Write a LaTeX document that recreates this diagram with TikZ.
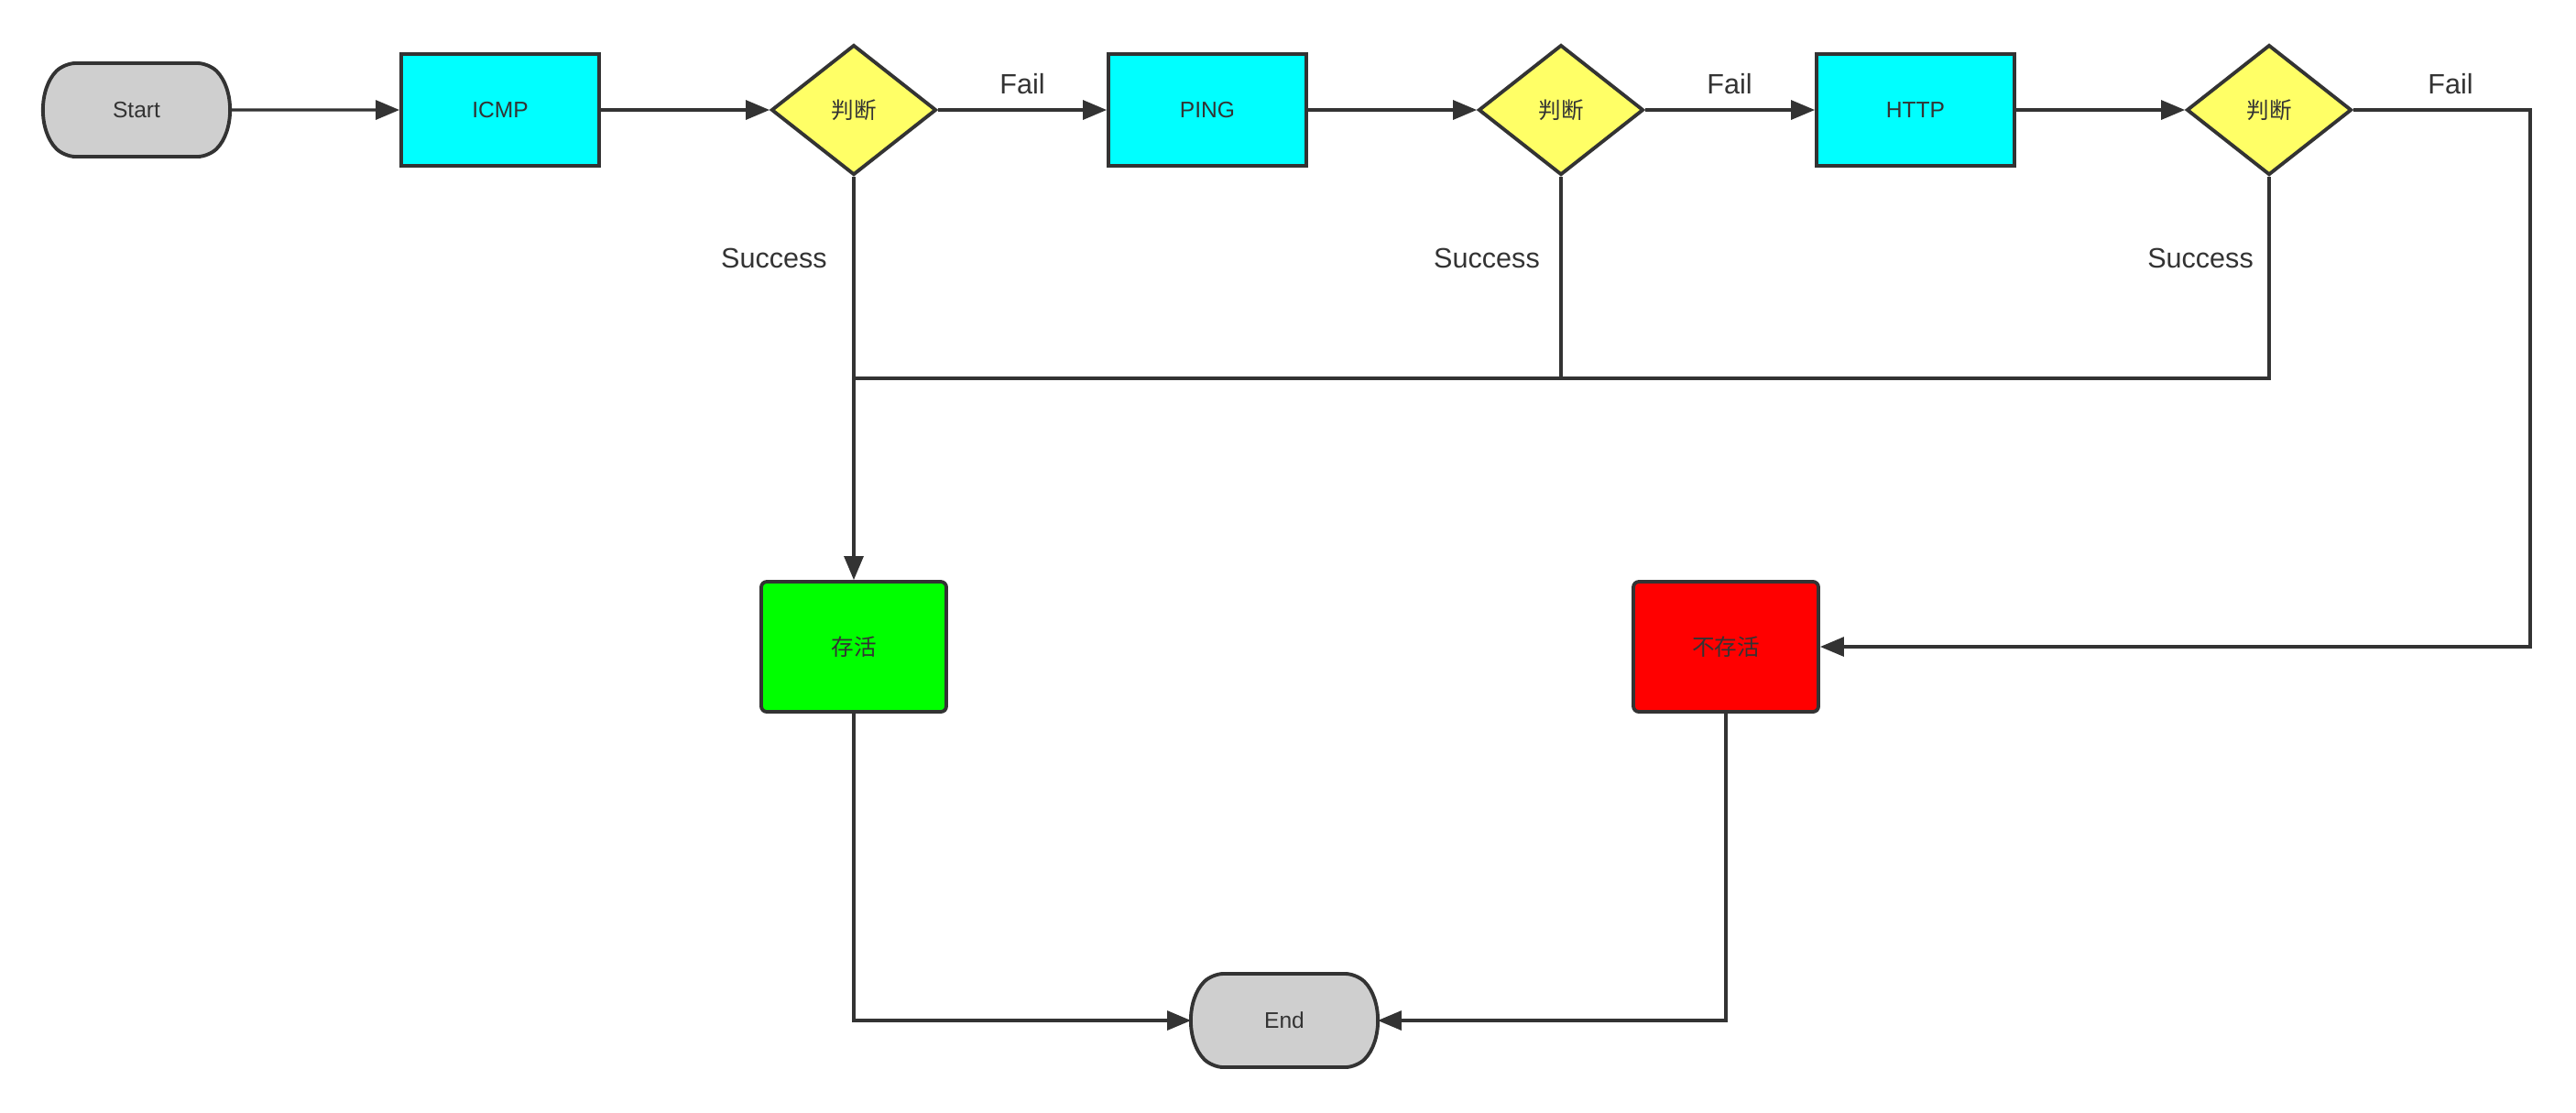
\documentclass[tikz,border=0pt]{standalone}
\usepackage{fontspec}
\setmainfont{Liberation Sans}
\newfontfamily\cjk{Noto Sans CJK SC}
\usetikzlibrary{arrows.meta,shapes.geometric,shapes.misc,positioning}
\definecolor{ink}{HTML}{333333}
\definecolor{probe}{HTML}{00FFFF}
\definecolor{judge}{HTML}{FFFF66}
\definecolor{alivegreen}{HTML}{00FF00}
\definecolor{deadred}{HTML}{FF0000}
\tikzset{
  base/.style={draw=ink, line width=1.1pt, text=ink, font=\fontsize{7}{8}\selectfont},
  terminal/.style={base, rounded rectangle, rounded rectangle arc length=90, rounded corners=0.12cm, fill=black!19, minimum width=2cm, minimum height=1.02cm, inner sep=0pt},
  probebox/.style={base, rectangle, fill=probe, minimum width=2.16cm, minimum height=1.22cm},
  judgebox/.style={base, diamond, fill=judge, minimum width=1.8cm, minimum height=1.42cm, inner sep=0pt, font=\fontsize{7}{8}\selectfont\cjk},
  result/.style={base, rectangle, rounded corners=0.06cm, minimum width=2.02cm, minimum height=1.42cm, font=\fontsize{7}{8}\selectfont\cjk},
  flow/.style={draw=ink, line width=0.9pt, -{Triangle[length=0.26cm,width=0.21cm]}},
  wire/.style={draw=ink, line width=0.9pt},
  lbl/.style={text=ink, font=\fontsize{8.7}{10}\selectfont}
}
\begin{document}
\begin{tikzpicture}[scale=1]
	\useasboundingbox (0,0) rectangle (28.12,-12.14);
	% top row
	\node[terminal] (start) at (1.49,-1.20) {Start};
	\node[probebox] (icmp) at (5.46,-1.20) {ICMP};
	\node[judgebox] (d1) at (9.32,-1.20) {判断};
	\node[probebox] (ping) at (13.18,-1.20) {PING};
	\node[judgebox] (d2) at (17.04,-1.20) {判断};
	\node[probebox] (http) at (20.91,-1.20) {HTTP};
	\node[judgebox] (d3) at (24.77,-1.20) {判断};
	% results
	\node[result, fill=alivegreen] (alive) at (9.32,-7.06) {存活};
	\node[result, fill=deadred] (dead) at (18.84,-7.06) {不存活};
	\node[terminal] (end) at (14.02,-11.14) {End};
	\coordinate (merge) at (9.32,-4.13);
	\coordinate (turn) at (27.62,-1.20);
	% connectors
	\draw[flow] (start) -- (icmp);
	\draw[flow] (icmp) -- (d1);
	\draw[flow] (d1) -- (ping);
	\draw[flow] (ping) -- (d2);
	\draw[flow] (d2) -- (http);
	\draw[flow] (http) -- (d3);
	\draw[flow] (d3.east) -- (turn) |- (dead.east);
	\draw[flow] (d1.south) -- (alive.north);
	\draw[wire] (d2.south) |- (merge);
	\draw[wire] (d3.south) |- (merge);
	\draw[flow] (alive.south) |- (end.west);
	\draw[flow] (dead.south) |- (end.east);
	% labels
	\draw (11.16,-0.92) node[lbl] {Fail};
	\draw (18.88,-0.92) node[lbl] {Fail};
	\draw (26.75,-0.92) node[lbl] {Fail};
	\draw (8.45,-2.82) node[lbl] {Success};
	\draw (16.23,-2.82) node[lbl] {Success};
	\draw (24.02,-2.82) node[lbl] {Success};
\end{tikzpicture}
\end{document}
